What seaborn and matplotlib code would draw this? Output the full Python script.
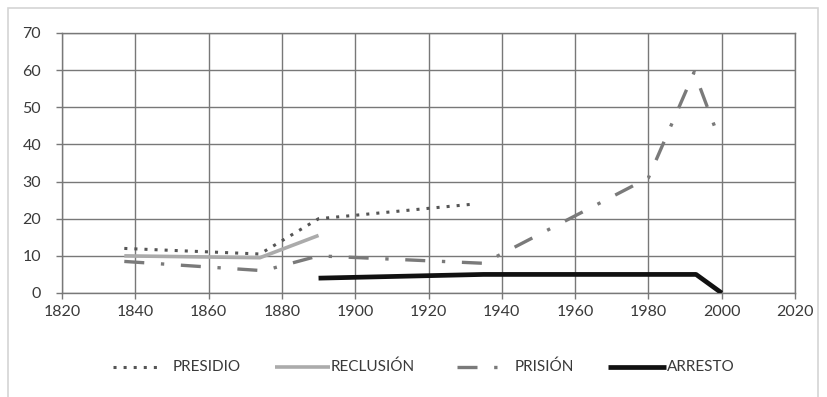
import matplotlib
matplotlib.use("Agg")
import matplotlib.pyplot as plt
from matplotlib.patches import Rectangle
from matplotlib.lines import Line2D
import seaborn as sns
import pandas as pd

# Series: year -> value
presidio_years = [1837, 1874, 1890, 1933]
presidio_vals = [12, 10.5, 20, 24]

reclusion_years = [1837, 1874, 1890]
reclusion_vals = [10, 9.5, 15.5]

prision_years = [1837, 1875, 1890, 1935, 1980, 1992.5, 1998]
prision_vals = [8.5, 6, 10, 8, 31, 59.5, 45]

arresto_years = [1890, 1935, 1993, 2000]
arresto_vals = [4, 5, 5, 0]

series_names = ["PRESIDIO", "RECLUSIÓN", "PRISIÓN", "ARRESTO"]
x_ticks = list(range(1820, 2021, 20))
y_ticks = list(range(0, 71, 10))

sns.set_theme(style="white")
plt.rcParams["font.family"] = ["Lato", "DejaVu Sans"]

W, H = 827, 397
fig = plt.figure(figsize=(W / 100, H / 100), dpi=100)
ax = fig.add_axes([62 / W, 1 - 293 / H, (795 - 62) / W, (293 - 33) / H])

# outer chart frame
fig.patches.append(Rectangle((8 / W, -0.01), 810 / W, 1 - 8 / H + 0.01,
                             transform=fig.transFigure, fill=False,
                             edgecolor="#d4d4d4", linewidth=1.2))

styles = {
    "PRESIDIO": dict(color="#555555", lw=2.2, dashes=(1, 2.3)),
    "RECLUSIÓN": dict(color="#ababab", lw=2.6, dashes=None),
    "PRISIÓN": dict(color="#7a7a7a", lw=2.4, dashes=(6, 5, 1, 5)),
    "ARRESTO": dict(color="#111111", lw=3.4, dashes=None),
}
data = {
    "PRESIDIO": (presidio_years, presidio_vals),
    "RECLUSIÓN": (reclusion_years, reclusion_vals),
    "PRISIÓN": (prision_years, prision_vals),
    "ARRESTO": (arresto_years, arresto_vals),
}

for name in series_names:
    yrs, vals = data[name]
    st = styles[name]
    df = pd.DataFrame({"año": yrs, "valor": vals})
    sns.lineplot(data=df, x="año", y="valor", ax=ax, color=st["color"],
                 linewidth=st["lw"], sort=False, estimator=None, zorder=3)
    line = ax.get_lines()[-1]
    line.set_solid_capstyle("butt")
    if st["dashes"] is not None:
        line.set_dashes(st["dashes"])
        line.set_dash_capstyle("butt")

ax.set_xlim(1820, 2020)
ax.set_ylim(0, 70)
ax.set_xticks(x_ticks)
ax.set_yticks(y_ticks)
ax.set_xlabel("")
ax.set_ylabel("")
ax.grid(True, color="#787878", linewidth=1.0)
ax.set_axisbelow(True)
for sp in ax.spines.values():
    sp.set_color("#787878")
    sp.set_linewidth(1.0)
ax.tick_params(axis="both", labelsize=11.5, labelcolor="#3a3a3a",
               color="#787878", length=4, width=1.0, left=True, bottom=True)
ax.tick_params(axis="y", pad=11)
ax.tick_params(axis="x", pad=5)

# legend row: (handle start, handle end, text start) in pixels
legend_pos = {
    "PRESIDIO": (113, 158, 173),
    "RECLUSIÓN": (275, 330, 331),
    "PRISIÓN": (457, 500, 515),
    "ARRESTO": (608, 666, 667),
}
ly = 1 - 367 / H
for name in series_names:
    x0, x1, xt = legend_pos[name]
    st = styles[name]
    h = Line2D([x0 / W, x1 / W], [ly, ly], transform=fig.transFigure,
               color=st["color"], linewidth=st["lw"], solid_capstyle="butt")
    if st["dashes"] is not None:
        h.set_dashes(st["dashes"])
        h.set_dash_capstyle("butt")
    fig.add_artist(h)
    fig.text(xt / W, ly, name, ha="left", va="center", fontsize=11,
             color="#3a3a3a")

fig.savefig("out.png", dpi=100)
